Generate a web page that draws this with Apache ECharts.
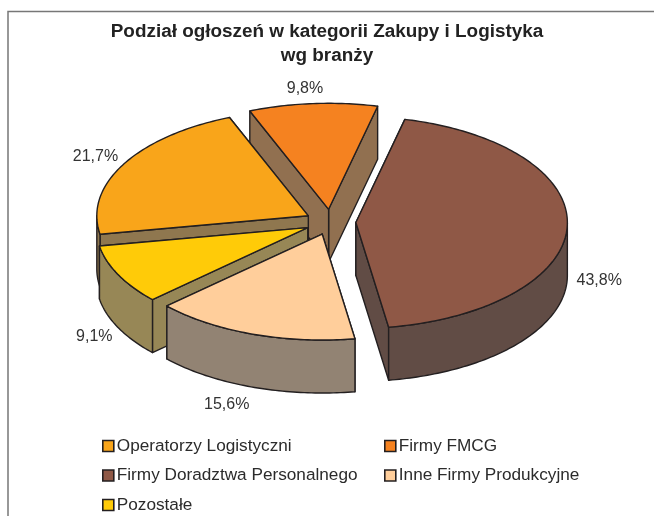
<!DOCTYPE html>
<html>
<head>
<meta charset="utf-8">
<style>html,body{margin:0;padding:0;background:#fff}#main{width:654px;height:516px}</style>
<script src="https://cdn.jsdelivr.net/npm/echarts@6/dist/echarts.min.js"></script>
</head>
<body>
<div id="main"></div>
<script>
var categories = ['Operatorzy Logistyczni', 'Firmy FMCG', 'Firmy Doradztwa Personalnego', 'Inne Firmy Produkcyjne', 'Pozostałe'];
var shares = [21.7, 9.8, 43.8, 15.6, 9.1];
var topColors = ['#F9A51A', '#F58220', '#8F5846', '#FFCE9B', '#FFCB08'];
var wallColors = ['#8F774F', '#917050', '#614C45', '#928373', '#978756'];
// back to front, the order the slices have to be painted in
var paintOrder = [1, 0, 4, 3, 2];
// label position relative to the slice's rim point at mid angle
var labelNudge = [[-28, -8], [-8, -15], [32, 54], [-26, 17], [-24, 9]];

var cx = 330.5, cy = 222, rx = 211.5, ry = 106, depth = 53, explode = 0.12;
var firstAngle = 190;
var edge = '#231F20';

var total = shares.reduce(function (a, b) { return a + b; }, 0);
var startAngles = [];
shares.reduce(function (from, v, i) {
    startAngles[i] = from;
    return from - v / total * 360;
}, firstAngle);

function rimPoint(c, deg, dy) {
    var t = deg * Math.PI / 180;
    return [c[0] + rx * Math.cos(t), c[1] - ry * Math.sin(t) + (dy || 0)];
}

function arc(c, from, to, dy) {
    var pts = [];
    var n = Math.max(2, Math.ceil(Math.abs(to - from)));
    for (var i = 0; i <= n; i++) {
        pts.push(rimPoint(c, from + (to - from) * i / n, dy));
    }
    return pts;
}

function poly(points, fill) {
    return {
        type: 'polygon',
        shape: { points: points },
        style: { fill: fill, stroke: edge, lineWidth: 1.4, lineJoin: 'round' },
        silent: true
    };
}

function renderSlice(idx, params, api) {
    var span = api.value(0) / total * 360;
    var from = startAngles[idx], to = from - span, mid = from - span / 2;
    var m = mid * Math.PI / 180;
    var c = [cx + explode * rx * Math.cos(m), cy - explode * ry * Math.sin(m)];
    var children = [];

    // radial walls, the one further back first
    var walls = [from, to].sort(function (a, b) {
        return rimPoint(c, a)[1] - rimPoint(c, b)[1];
    });
    walls.forEach(function (deg) {
        var p = rimPoint(c, deg);
        children.push(poly([c, p, [p[0], p[1] + depth], [c[0], c[1] + depth]], wallColors[idx]));
    });

    // outer wall, only the part that faces the viewer (angles -180..0, or 180..360 the same)
    [[-180, 0], [180, 360]].forEach(function (range) {
        var a = Math.min(from, range[1]), b = Math.max(to, range[0]);
        if (a > b) {
            var up = arc(c, a, b, 0), down = arc(c, b, a, depth);
            children.push(poly(up.concat(down), wallColors[idx]));
        }
    });

    children.push(poly([c].concat(arc(c, from, to, 0)), topColors[idx]));

    var anchor = rimPoint(c, mid, Math.sin(m) < -0.1 ? depth : 0);
    children.push({
        type: 'text',
        silent: true,
        style: {
            x: anchor[0] + labelNudge[idx][0],
            y: anchor[1] + labelNudge[idx][1],
            text: api.value(0).toFixed(1).replace('.', ',') + '%',
            fill: '#333',
            font: '16px "Liberation Sans", Arial, sans-serif',
            align: 'center',
            verticalAlign: 'middle'
        }
    });
    return { type: 'group', children: children };
}

var legendBase = {
    orient: 'vertical',
    selectedMode: false,
    itemWidth: 11,
    itemHeight: 11,
    itemGap: 11.5,
    padding: 0,
    icon: 'rect',
    itemStyle: { borderColor: edge, borderWidth: 1.6 },
    textStyle: { fontFamily: '"Liberation Sans", Arial, sans-serif', fontSize: 17.2, color: '#2b2b2b', padding: [0, 0, 0, -2], lineHeight: 18 }
};

var chart = echarts.init(document.getElementById('main'), null, { renderer: 'canvas' });
chart.setOption({
    backgroundColor: '#fff',
    animation: false,
    title: {
        text: 'Podział ogłoszeń w kategorii Zakupy i Logistyka\nwg branży',
        left: 'center',
        top: 15,
        textStyle: { fontFamily: '"Liberation Sans", Arial, sans-serif', fontSize: 18.9, fontWeight: 'bold', color: '#222', lineHeight: 24, align: 'center' }
    },
    legend: [
        Object.assign({}, legendBase, { left: 102, top: 437, data: [categories[0], categories[2], categories[4]] }),
        Object.assign({}, legendBase, { left: 384, top: 437, data: [categories[1], categories[3]] })
    ],
    graphic: [{
        type: 'polyline',
        shape: { points: [[8, 516], [8, 11.5], [654, 11.5]] },
        style: { stroke: '#777', lineWidth: 1.5, fill: null },
        silent: true
    }],
    series: paintOrder.map(function (idx) {
        return {
            type: 'custom',
            name: categories[idx],
            coordinateSystem: 'none',
            silent: true,
            itemStyle: { color: topColors[idx] },
            renderItem: function (params, api) { return renderSlice(idx, params, api); },
            data: [[shares[idx]]]
        };
    })
});
</script>
</body>
</html>
